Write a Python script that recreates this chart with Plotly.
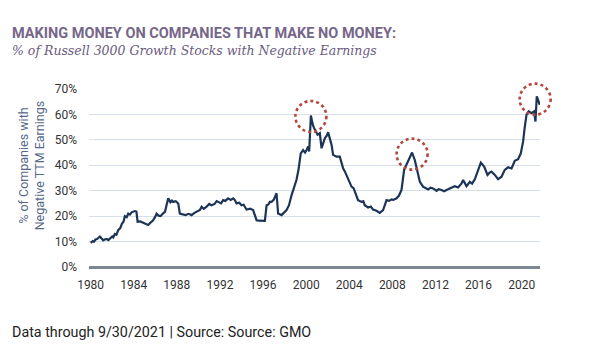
import plotly.graph_objects as go

years = [1980.0, 1980.2, 1980.3, 1980.45, 1980.6, 1980.86, 1981.0, 1981.17, 1981.35, 1981.5, 1981.65, 1981.8,
         1982.0, 1982.1, 1982.25, 1982.4, 1982.56, 1982.75,
         1982.9, 1983.05, 1983.18, 1983.35, 1983.49, 1983.65, 1983.8, 1984.1, 1984.25, 1984.36, 1984.6, 1984.88, 1985.1, 1985.34,
         1985.6, 1985.8, 1986.0, 1986.12, 1986.3, 1986.5, 1986.7, 1986.9, 1987.2, 1987.3, 1987.4, 1987.55, 1987.66, 1987.9, 1988.13, 1988.28, 1988.5, 1988.8,
         1989.1, 1989.37, 1989.6, 1989.83, 1990.14, 1990.3, 1990.5, 1990.76, 1991.0, 1991.22, 1991.5, 1991.7, 1991.84, 1992.1, 1992.3, 1992.5, 1992.76,
         1993.0, 1993.23, 1993.4, 1993.54, 1993.8, 1994.0, 1994.2, 1994.47, 1994.8, 1995.08, 1995.4, 1995.6, 1995.92, 1996.17, 1996.33, 1996.5, 1996.63,
         1996.79, 1997.0, 1997.25, 1997.4, 1997.72, 1998.18, 1998.4, 1998.65, 1999.1, 1999.3, 1999.5, 1999.72, 1999.9, 2000.04,
         2000.19, 2000.28, 2000.44, 2000.6, 2000.74, 2001.06, 2001.27, 2001.43, 2001.74, 2001.9, 2002.04, 2002.2, 2002.36,
         2002.5, 2002.82, 2003.12, 2003.43, 2003.6, 2003.9, 2004.21, 2004.4, 2004.52, 2004.82, 2005.14, 2005.3, 2005.44,
         2005.75, 2006.0, 2006.21, 2006.53, 2006.83, 2007.14, 2007.46, 2007.7, 2007.92, 2008.1, 2008.39, 2008.6, 2008.85, 2009.09,
         2009.46, 2009.83, 2010.08, 2010.33, 2010.55, 2010.85, 2011.1, 2011.32, 2011.55, 2011.78, 2012.1, 2012.3, 2012.56, 2012.8,
         2013.02, 2013.33, 2013.49, 2013.79, 2014.1, 2014.42, 2014.57, 2014.88, 2015.19, 2015.4, 2015.65,
         2015.96, 2016.21, 2016.52, 2016.83, 2017.0, 2017.2, 2017.51, 2017.81, 2018.13, 2018.43, 2018.74,
         2019.06, 2019.36, 2019.67, 2019.92, 2020.13, 2020.29, 2020.45, 2020.66, 2020.91, 2021.15,
         2021.28, 2021.4, 2021.59, 2021.68]
pct = [9.5, 10.2, 9.9, 10.8, 11.0, 12.0, 11.3, 10.5, 10.9, 11.0, 10.6, 11.2,
       12.0, 11.6, 13.0, 12.7, 14.5, 15.3,
       17.0, 17.8, 20.0, 19.6, 21.0, 20.6, 21.5, 22.0, 21.8, 17.8, 17.9, 17.4, 17.0, 16.5,
       17.6, 18.4, 19.8, 21.0, 20.2, 20.0, 21.0, 21.7, 27.0, 26.0, 25.5, 26.1, 25.6, 25.9, 25.0, 21.0, 20.8, 20.4,
       20.9, 20.4, 21.2, 21.7, 22.4, 23.7, 22.9, 23.7, 24.8, 24.3, 24.8, 25.9, 25.6, 25.0, 26.3, 26.0, 27.0,
       26.4, 27.0, 26.2, 25.0, 25.3, 24.3, 24.5, 22.6, 22.9, 22.4, 18.4, 18.2, 18.0, 18.1, 24.3, 24.6, 25.6,
       25.6, 26.5, 29.0, 21.0, 20.4, 22.4, 24.2, 28.3, 34.2, 38.5, 44.7, 46.0, 45.0, 46.0,
       47.4, 45.4, 59.6, 56.2, 54.6, 52.0, 52.6, 46.7, 50.7, 51.5, 53.0, 50.5, 48.0,
       44.1, 43.4, 43.4, 38.8, 37.5, 34.9, 31.6, 31.0, 29.6, 26.3, 25.6, 25.9, 24.3,
       23.4, 23.8, 22.6, 22.1, 21.3, 22.4, 26.3, 26.0, 26.6, 26.4, 27.0, 28.0, 30.3, 38.2,
       41.4, 45.0, 42.1, 36.9, 33.5, 31.6, 31.0, 30.5, 31.2, 30.9, 29.9, 30.6, 30.3, 29.8,
       30.3, 30.9, 31.3, 31.8, 31.3, 32.9, 34.2, 31.8, 33.5, 32.8, 34.5,
       38.2, 41.0, 39.5, 36.2, 37.0, 37.5, 36.2, 34.5, 35.5, 38.2, 39.2,
       38.8, 41.8, 42.4, 44.7, 49.3, 55.2, 59.9, 61.2, 60.5, 61.2,
       57.2, 67.1, 65.1, 63.8]

tick_years = [1980, 1984, 1988, 1992, 1996, 2000, 2004, 2008, 2012, 2016, 2020]
tick_pcts = [0, 10, 20, 30, 40, 50, 60, 70]
tick_pct_labels = ["0%", "10%", "20%", "30%", "40%", "50%", "60%", "70%"]

highlight_x = [2000.44, 2009.83, 2021.25]
highlight_y = [59.2, 44.4, 66.0]

x_range = [1979.85, 2021.7]
y_range = [0, 70]

fig = go.Figure()
fig.add_trace(go.Scatter(x=years, y=pct, mode="lines",
                         line=dict(color="#1c3557", width=2.2), hoverinfo="skip"))

# dotted highlight circles, placed in paper coordinates (derived from data) so they are not clipped
for hx, hy in zip(highlight_x, highlight_y):
    px = (hx - x_range[0]) / (x_range[1] - x_range[0])
    py = (hy - y_range[0]) / (y_range[1] - y_range[0])
    fig.add_shape(type="circle", xref="paper", yref="paper", xsizemode="pixel", ysizemode="pixel",
                  xanchor=px, yanchor=py, x0=-15.5, x1=15.5, y0=-15.5, y1=15.5,
                  line=dict(color="#b3473d", width=2.6, dash="dot"))

fig.update_layout(
    width=600, height=344,
    margin=dict(l=89, r=60, t=89, b=77),
    paper_bgcolor="white", plot_bgcolor="white",
    showlegend=False,
    xaxis=dict(range=x_range, tickmode="array", tickvals=tick_years,
               ticktext=[str(t) for t in tick_years], showgrid=False, zeroline=False,
               showline=False, ticks="", ticklabelstandoff=9,
               tickfont=dict(family="Roboto", size=12, color="#333333")),
    yaxis=dict(range=y_range, tickmode="array", tickvals=tick_pcts, ticktext=tick_pct_labels,
               showgrid=True, gridcolor="#d6dfea", gridwidth=1, zeroline=True,
               zerolinecolor="#7d8892", zerolinewidth=2.5, showline=False, ticks="",
               ticklabelstandoff=11,
               tickfont=dict(family="Roboto", size=12, color="#333333")),
)

fig.add_annotation(text="<b>MAKING MONEY ON COMPANIES THAT MAKE NO MONEY:</b>", xref="paper", yref="paper",
                   x=-79/451, y=1 + (89-33)/178, xanchor="left", yanchor="middle", showarrow=False,
                   font=dict(family="Roboto", size=14.5, color="#76668a"))
fig.add_annotation(text="<i>% of Russell 3000 Growth Stocks with Negative Earnings</i>", xref="paper", yref="paper",
                   x=-79/451, y=1 + (89-50)/178, xanchor="left", yanchor="middle", showarrow=False,
                   font=dict(family="DejaVu Serif", size=12.5, color="#6a5a7e"))
fig.add_annotation(text="% of Companies with<br>Negative TTM Earnings", xref="paper", yref="paper",
                   x=-(89-31)/451, y=(266.7-166)/178, xanchor="center", yanchor="middle", showarrow=False,
                   textangle=-90, font=dict(family="Roboto", size=12.5, color="#56698a"))
fig.add_annotation(text="Data through 9/30/2021 | Source: Source: GMO", xref="paper", yref="paper",
                   x=-79/451, y=-(332-267)/178, xanchor="left", yanchor="middle", showarrow=False,
                   font=dict(family="Roboto", size=14.3, color="#222222"))

fig.write_html("out.html")
